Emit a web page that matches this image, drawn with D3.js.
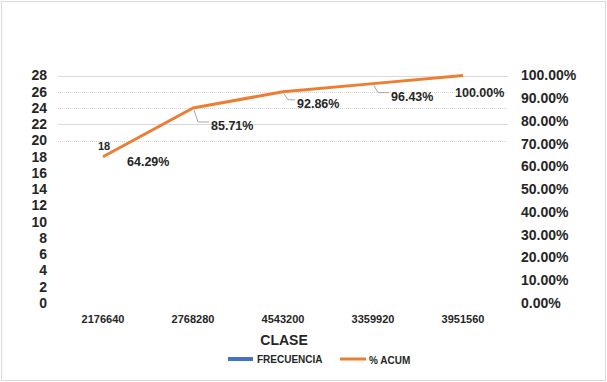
<!DOCTYPE html>
<html><head><meta charset="utf-8">
<script src="https://cdn.jsdelivr.net/npm/d3@7"></script>
<style>body{margin:0;background:#fff}svg{display:block}text{font-family:"Liberation Sans",Arial,sans-serif}</style>
</head><body><svg id="c" width="607" height="382"></svg>
<script>
const categories = ["2176640","2768280","4543200","3359920","3951560"];
const frecuencia = [18, 6, 2, 1, 1];
const acumPct = [64.29, 85.71, 92.86, 96.43, 100.00];
const leftTicks = [0,2,4,6,8,10,12,14,16,18,20,22,24,26,28];
const rightTicks = [0,10,20,30,40,50,60,70,80,90,100];
const gridValues = [20,22,24,26,28];
const solidGrid = [22,28];

const svg = d3.select("#c");
const W = 607, H = 382;
const textCol = "#262626";

svg.append("rect").attr("x",1.5).attr("y",1.5).attr("width",W-3).attr("height",H-3)
  .attr("fill","#fff").attr("stroke","#d9d9d9").attr("stroke-width",1);

const x = d3.scaleBand().domain(categories).range([58,508]).padding(0);
const yL = d3.scaleLinear().domain([0,28]).range([303,75.5]);
const yR = d3.scaleLinear().domain([0,100]).range([303,75.5]);

// gridlines
svg.append("g").selectAll("line").data(gridValues).join("line")
  .attr("x1",58).attr("x2",508)
  .attr("y1",d=>Math.round(yL(d))+0.5).attr("y2",d=>Math.round(yL(d))+0.5)
  .attr("stroke","#d9d9d9").attr("stroke-width",1)
  .attr("stroke-dasharray",d=>solidGrid.includes(d)?null:"1,1");

// left axis
const axL = d3.axisLeft(yL).tickValues(leftTicks).tickSize(0).tickPadding(0);
const gL = svg.append("g").attr("transform","translate(47,0)").call(axL);
gL.select(".domain").remove();
gL.selectAll("text").attr("font-size",14).attr("font-weight","bold").attr("fill",textCol).attr("font-family","Liberation Sans, Arial, sans-serif");

// right axis
const axR = d3.axisRight(yR).tickValues(rightTicks).tickSize(0).tickPadding(0).tickFormat(d=>d.toFixed(2)+"%");
const gR = svg.append("g").attr("transform","translate(521,0)").call(axR);
gR.select(".domain").remove();
gR.selectAll("text").attr("font-size",14).attr("font-weight","bold").attr("fill",textCol).attr("font-family","Liberation Sans, Arial, sans-serif");

// bottom axis
const axB = d3.axisBottom(x).tickSize(0).tickPadding(0);
const gB = svg.append("g").attr("transform","translate(0,315)").call(axB);
gB.select(".domain").remove();
gB.selectAll("text").attr("font-size",11).attr("font-weight","bold").attr("fill",textCol).attr("font-family","Liberation Sans, Arial, sans-serif");

// bars (frequency series, drawn transparent as in reference)
const bw = 0;
svg.append("g").selectAll("rect").data(frecuencia).join("rect")
  .attr("x",(d,i)=>x(categories[i])+x.bandwidth()/2-bw/2)
  .attr("width",bw).attr("y",d=>yL(d)).attr("height",d=>yL(0)-yL(d))
  .attr("fill","#4472C4");
svg.append("g").selectAll("text").data(frecuencia.filter((d,i)=>i===0)).join("text")
  .attr("x",(d,i)=>x(categories[i])+x.bandwidth()/2+1)
  .attr("y",d=>yL(d)-7).attr("text-anchor","middle")
  .attr("font-size",11).attr("font-weight","bold").attr("fill",textCol).text(d=>d);

// line
const pts = acumPct.map((v,i)=>[x(categories[i])+x.bandwidth()/2, yR(v)]);
svg.append("path").attr("d",d3.line()(pts)).attr("fill","none")
  .attr("stroke","#ED7D31").attr("stroke-width",3).attr("stroke-linejoin","round");

// data labels with leader lines
const labOff = [[24,5],[18,18],[14,12],[18,13],[-8,17]];
const leaders = [false,true,true,true,false];
const lg = svg.append("g");
acumPct.forEach((v,i)=>{
  const [px,py] = pts[i];
  const [dx,dy] = labOff[i];
  if(leaders[i]){
    lg.append("polyline").attr("points",`${px+1},${py+2} ${px+5},${py+dy-4} ${px+dx-2},${py+dy-4}`)
      .attr("fill","none").attr("stroke","#a6a6a6").attr("stroke-width",1);
  }
  lg.append("text").attr("x",px+dx).attr("y",py+dy)
    .attr("font-size",12.5).attr("font-weight","bold").attr("fill",textCol)
    .attr("dominant-baseline","central").text(v.toFixed(2)+"%");
});

// axis title
svg.append("text").attr("x",284).attr("y",340).attr("text-anchor","middle").attr("dominant-baseline","central")
  .attr("font-size",14).attr("font-weight","bold").attr("fill",textCol).text("CLASE");

// legend
const leg = svg.append("g");
leg.append("rect").attr("x",228).attr("y",357).attr("width",25).attr("height",4).attr("fill","#4472C4");
leg.append("text").attr("x",257).attr("y",359).attr("dominant-baseline","central").attr("font-size",10).attr("font-weight","bold").attr("fill",textCol).text("FRECUENCIA");
leg.append("line").attr("x1",340).attr("x2",366).attr("y1",359).attr("y2",359).attr("stroke","#ED7D31").attr("stroke-width",3);
leg.append("text").attr("x",369).attr("y",360).attr("dominant-baseline","central").attr("font-size",10).attr("font-weight","bold").attr("fill",textCol).text("% ACUM");
</script></body></html>
